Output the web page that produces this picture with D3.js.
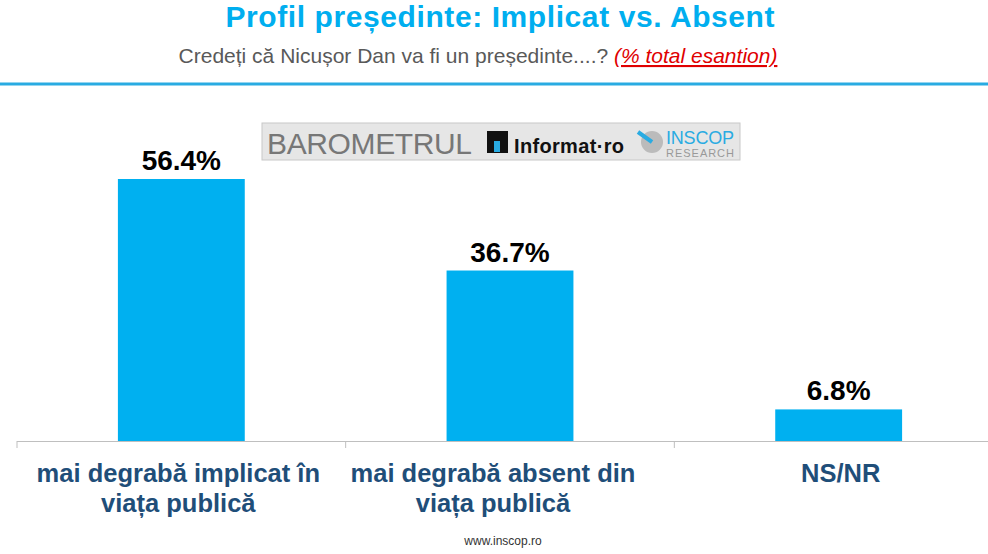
<!DOCTYPE html><html><head><meta charset="utf-8"><script src="https://cdn.jsdelivr.net/npm/d3@7"></script>
<style>body{margin:0;background:#fff}</style></head><body><svg id="c" width="988" height="554"></svg>
<script>
const categories=[["mai degrabă implicat în","viața publică"],["mai degrabă absent din","viața publică"],["NS/NR"]];
const values=[56.4,36.7,6.8];
const svg=d3.select("#c");
const F="Arial, 'Liberation Sans', sans-serif";
svg.append("text").attr("x",500).attr("y",27).attr("text-anchor","middle").attr("font-family",F).attr("font-weight","bold").attr("font-size",30).attr("fill","#00aeef").attr("textLength",549).text("Profil președinte: Implicat vs. Absent");
const sub=svg.append("text").attr("x",478).attr("y",63).attr("text-anchor","middle").attr("font-family",F).attr("font-size",21).attr("fill","#595959");
sub.append("tspan").text("Credeți că Nicușor Dan va fi un președinte....? ");
sub.append("tspan").attr("fill","#e00000").attr("font-style","italic").attr("text-decoration","underline").text("(% total esantion)");
svg.append("line").attr("x1",0).attr("x2",988).attr("y1",84).attr("y2",84).attr("stroke","#29abe2").attr("stroke-width",3);
const g=svg.append("g");
g.append("rect").attr("x",262).attr("y",123).attr("width",478).attr("height",37).attr("fill","#e6e6e6").attr("stroke","#c8c8c8");
g.append("text").attr("x",267).attr("y",154).attr("font-family",F).attr("font-size",30).attr("fill","#777").attr("textLength",205).text("BAROMETRUL");
g.append("rect").attr("x",487).attr("y",131).attr("width",21).attr("height",22).attr("fill","#111");
g.append("rect").attr("x",494).attr("y",141).attr("width",6).attr("height",11).attr("fill","#29abe2");
g.append("text").attr("x",514).attr("y",153).attr("font-family",F).attr("font-weight","bold").attr("font-size",20).attr("fill","#111").attr("textLength",110).text("Informat·ro");
g.append("circle").attr("cx",652).attr("cy",142).attr("r",11).attr("fill","#bbb");
g.append("line").attr("x1",638).attr("y1",132).attr("x2",652).attr("y2",142).attr("stroke","#29abe2").attr("stroke-width",4);
g.append("text").attr("x",666).attr("y",144).attr("font-family",F).attr("font-size",18).attr("fill","#29abe2").attr("textLength",68).text("INSCOP");
g.append("text").attr("x",666).attr("y",157).attr("font-family",F).attr("font-size",11).attr("fill","#999").attr("textLength",68).text("RESEARCH");
const x=d3.scaleBand().domain(d3.range(3)).range([17,1003]).paddingInner(0.614).paddingOuter(0.307);
const y=d3.scaleLinear().domain([0,56.4]).range([441,179]);
svg.selectAll(".b").data(values).join("rect").attr("x",(d,i)=>x(i)).attr("width",x.bandwidth()).attr("y",d=>y(d)).attr("height",d=>441-y(d)).attr("fill","#00b0f0");
svg.selectAll(".v").data(values).join("text").attr("x",(d,i)=>x(i)+x.bandwidth()/2).attr("y",d=>y(d)-9).attr("text-anchor","middle").attr("font-family",F).attr("font-weight","bold").attr("font-size",28).attr("fill","#000").text(d=>d.toFixed(1)+"%");
svg.append("line").attr("x1",17).attr("x2",988).attr("y1",441.5).attr("y2",441.5).attr("stroke","#bfbfbf");
[0,1,2].forEach(i=>svg.append("line").attr("x1",17+i*x.step()).attr("x2",17+i*x.step()).attr("y1",441).attr("y2",448).attr("stroke","#bfbfbf"));
const off=[-3,-17,2];
categories.forEach((c,i)=>{const t=svg.append("text").attr("text-anchor","middle").attr("font-family",F).attr("font-weight","bold").attr("font-size",25.5).attr("fill","#1f4e79");
c.forEach((l,j)=>t.append("tspan").attr("x",x(i)+x.bandwidth()/2+off[i]).attr("y",482+j*30).text(l));});
svg.append("text").attr("x",503).attr("y",545).attr("text-anchor","middle").attr("font-family",F).attr("font-size",12).attr("fill","#333").text("www.inscop.ro");
</script></body></html>
